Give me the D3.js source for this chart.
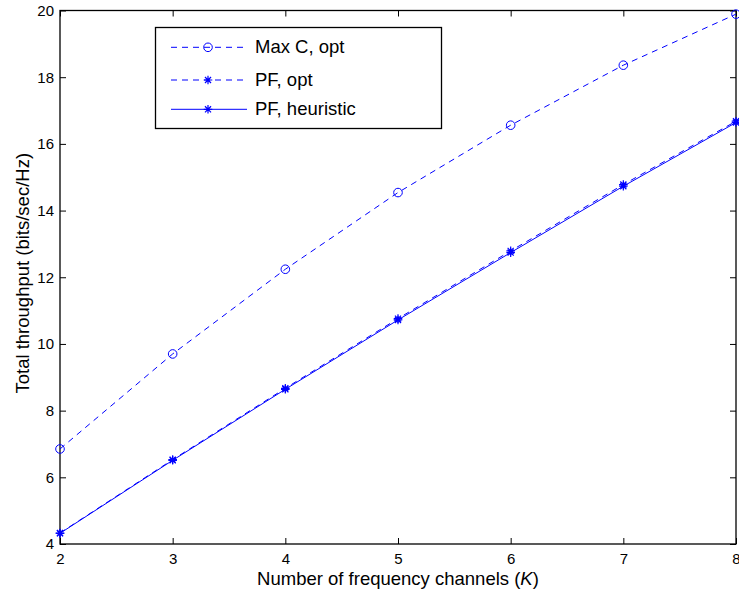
<!DOCTYPE html>
<html>
<head>
<meta charset="utf-8">
<script src="https://cdn.jsdelivr.net/npm/d3@7"></script>
<style>
  html, body { margin: 0; padding: 0; background: #fff; }
  svg { display: block; font-family: "Liberation Sans", Arial, Helvetica, sans-serif; }
</style>
</head>
<body>
<svg id="chart" width="739" height="594"></svg>
<script>
// Number of frequency channels K
const channels = [2, 3, 4, 5, 6, 7, 8];
// Total throughput (bits/sec/Hz) per scheme
const maxCOpt = [6.85, 9.70, 12.24, 14.54, 16.56, 18.36, 19.89];
const pfOpt = [4.33, 6.53, 8.67, 10.76, 12.79, 14.78, 16.68];
const pfHeuristic = [4.32, 6.51, 8.64, 10.72, 12.74, 14.73, 16.64];
const xTicks = [2, 3, 4, 5, 6, 7, 8];
const yTicks = [4, 6, 8, 10, 12, 14, 16, 18, 20];

const blue = "#0000ff";
const svg = d3.select("#chart");
const m = { left: 60, right: 736, top: 10.5, bottom: 544 };

const x = d3.scaleLinear().domain([2, 8]).range([m.left, m.right]);
const y = d3.scaleLinear().domain([4, 20]).range([m.bottom, m.top]);

const tickLen = 6;
const tickFont = 15;
const labelFont = 18.5;

// Axes with inward ticks on all four sides
const axes = [
  { axis: d3.axisBottom(x).tickValues(xTicks).tickFormat(d3.format("d")).tickSizeInner(-tickLen).tickSizeOuter(0).tickPadding(9), t: `translate(0,${m.bottom})`, labels: true },
  { axis: d3.axisTop(x).tickValues(xTicks).tickSizeInner(-tickLen).tickSizeOuter(0), t: `translate(0,${m.top})`, labels: false },
  { axis: d3.axisLeft(y).tickValues(yTicks).tickFormat(d3.format("d")).tickSizeInner(-tickLen).tickSizeOuter(0).tickPadding(6), t: `translate(${m.left},0)`, labels: true },
  { axis: d3.axisRight(y).tickValues(yTicks).tickSizeInner(-tickLen).tickSizeOuter(0), t: `translate(${m.right},0)`, labels: false }
];
axes.forEach(a => {
  const g = svg.append("g").attr("transform", a.t).call(a.axis);
  g.select(".domain").remove();
  g.selectAll(".tick line").attr("stroke", "#000").attr("stroke-width", 1);
  g.selectAll(".tick text")
    .attr("font-size", tickFont)
    .attr("fill", "#000")
    .attr("font-family", "Liberation Sans, Arial, sans-serif")
    .style("display", a.labels ? null : "none");
});

// Plot frame
svg.append("rect")
  .attr("x", m.left).attr("y", m.top)
  .attr("width", m.right - m.left).attr("height", m.bottom - m.top)
  .attr("fill", "none").attr("stroke", "#000").attr("stroke-width", 1.3);

const line = d3.line().x((d, i) => x(channels[i])).y(d => y(d));

function starPath(cx, cy, r) {
  const parts = [];
  for (let k = 0; k < 4; k++) {
    const a = k * Math.PI / 4;
    const dx = r * Math.cos(a), dy = r * Math.sin(a);
    parts.push(`M${cx - dx},${cy - dy}L${cx + dx},${cy + dy}`);
  }
  return parts.join("");
}

const series = [
  { values: maxCOpt, dash: "6,5", marker: "circle", label: "Max C, opt" },
  { values: pfOpt, dash: "6,5", marker: "star", label: "PF, opt" },
  { values: pfHeuristic, dash: null, marker: "star", label: "PF, heuristic" }
];

function drawMarkers(g, type, pts) {
  pts.forEach(([px, py]) => {
    if (type === "circle") {
      g.append("circle").attr("cx", px).attr("cy", py).attr("r", 4.3)
        .attr("fill", "none").attr("stroke", blue).attr("stroke-width", 1);
    } else {
      g.append("path").attr("d", starPath(px, py, 4.3))
        .attr("fill", "none").attr("stroke", blue).attr("stroke-width", 1.2);
    }
  });
}

const plot = svg.append("g");
series.forEach(s => {
  plot.append("path")
    .datum(s.values)
    .attr("d", line)
    .attr("fill", "none")
    .attr("stroke", blue)
    .attr("stroke-width", 1)
    .attr("stroke-dasharray", s.dash);
  drawMarkers(plot, s.marker, s.values.map((v, i) => [x(channels[i]), y(v)]));
});

// Legend
const legend = svg.append("g");
legend.append("rect")
  .attr("x", 155.5).attr("y", 27.5).attr("width", 286).attr("height", 101)
  .attr("fill", "#fff").attr("stroke", "#000").attr("stroke-width", 1.3);
const legendRows = [47.3, 80, 109.3];
series.forEach((s, i) => {
  const ly = legendRows[i];
  legend.append("line")
    .attr("x1", 171).attr("x2", 247).attr("y1", ly).attr("y2", ly)
    .attr("stroke", blue).attr("stroke-width", 1)
    .attr("stroke-dasharray", s.dash);
  drawMarkers(legend, s.marker, [[208, ly]]);
  legend.append("text")
    .attr("x", 255).attr("y", ly + 6)
    .attr("font-size", labelFont).attr("fill", "#000")
    .text(s.label);
});

// Axis titles
const xt = svg.append("text")
  .attr("x", (m.left + m.right) / 2).attr("y", 584.5)
  .attr("text-anchor", "middle").attr("font-size", labelFont).attr("fill", "#000");
xt.append("tspan").text("Number of frequency channels (");
xt.append("tspan").attr("font-style", "italic").text("K");
xt.append("tspan").text(")");

svg.append("text")
  .attr("transform", `translate(29,${(m.top + m.bottom) / 2 - 4}) rotate(-90)`)
  .attr("text-anchor", "middle").attr("font-size", labelFont).attr("fill", "#000")
  .text("Total throughput (bits/sec/Hz)");
</script>
</body>
</html>
